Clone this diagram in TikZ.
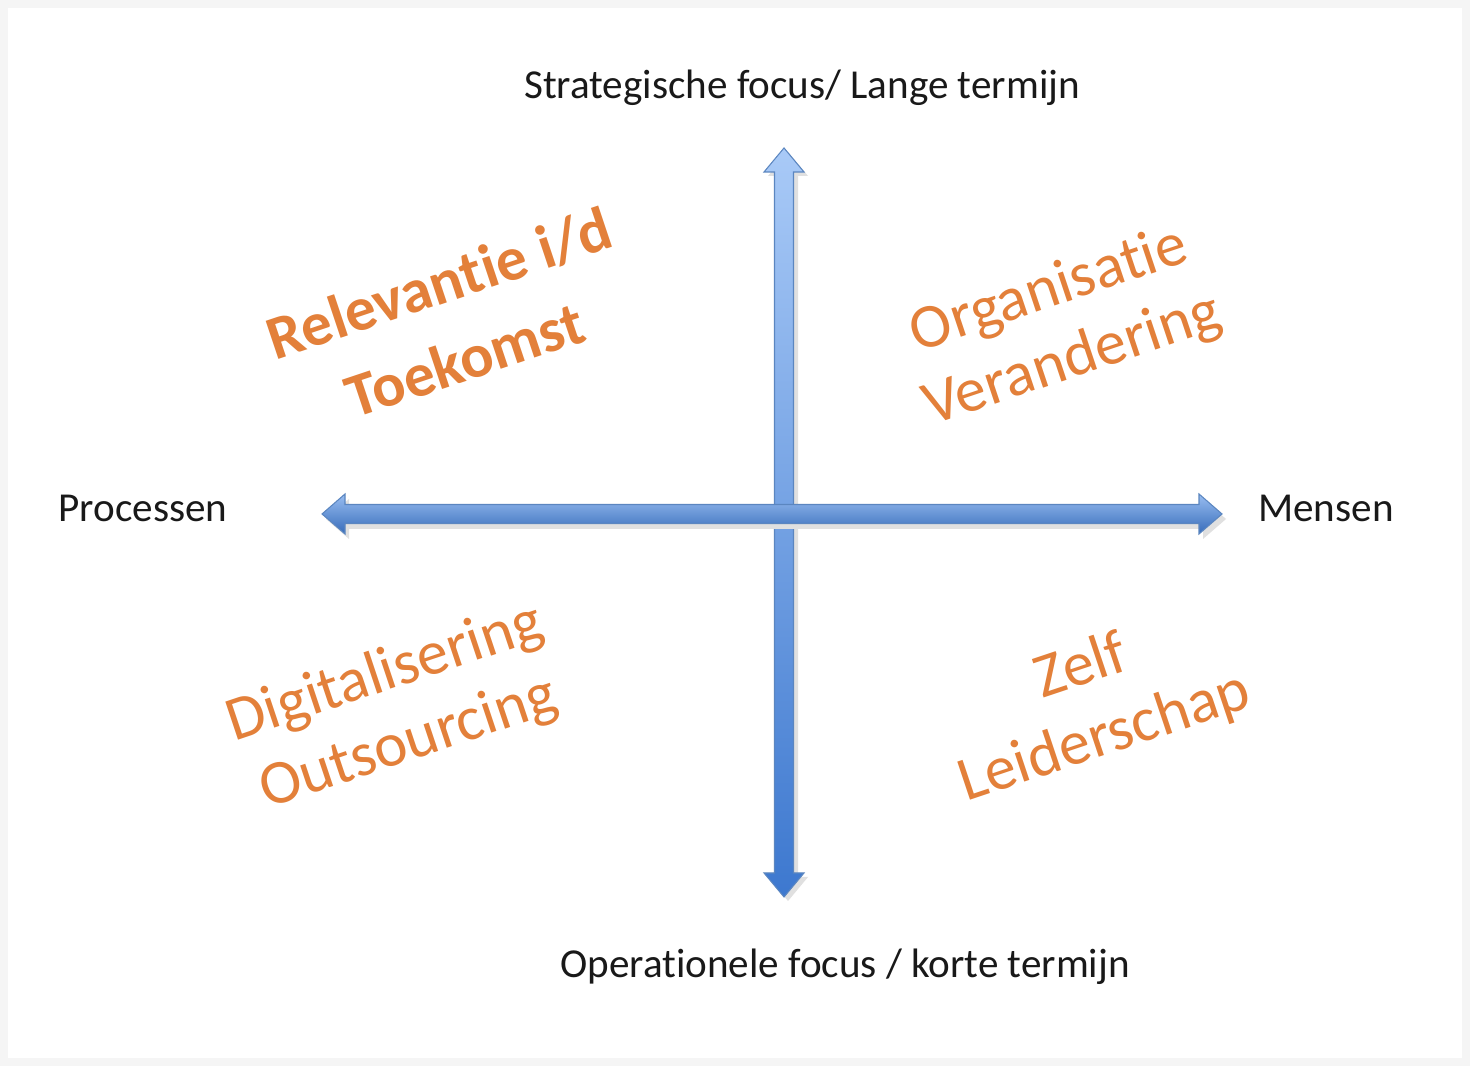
\documentclass[tikz,border=0pt]{standalone}
\usepackage{fontspec}
\setmainfont{Carlito}[Ligatures=NoCommon]
\usepackage{tikz}
\usetikzlibrary{calc}
\definecolor{oranje}{HTML}{E3803A}
\definecolor{pijllicht}{HTML}{A9CAF7}
\definecolor{pijldonker}{HTML}{3D78CF}
\definecolor{pijlrand}{HTML}{5B86C0}
\tikzset{
  as/.style={font=\fontsize{11.7}{14}\selectfont, text=black!90, inner sep=0pt},
  kwadrant/.style={font=\fontsize{17.8}{21}\selectfont, text=oranje, align=center, rotate=18.5, inner sep=0pt},
}

\begin{document}
\begin{tikzpicture}
			%%%%% START %%%%%
			
			\useasboundingbox (0, 0) rectangle (14.70, 10.66);
			\fill[black!4] (0, 0) rectangle (14.70, 10.66);
			\fill[white] (0.08, 0.08) rectangle (14.62, 10.58);
			
			% verticale pijl
			\fill[black!12] (7.88, 9.14) -- (8.08, 8.90) -- (7.98, 8.90) -- (7.98, 1.89) -- (8.08, 1.89) -- (7.88, 1.65) -- (7.68, 1.89) -- (7.78, 1.89) -- (7.78, 8.90) -- (7.68, 8.90) -- cycle;
			\shade[top color=pijllicht, bottom color=pijldonker, draw=pijlrand, line width=0.3pt]
			  (7.84, 9.18) -- (8.04, 8.94) -- (7.935, 8.94) -- (7.935, 1.93) -- (8.04, 1.93) -- (7.84, 1.69) -- (7.64, 1.93) -- (7.745, 1.93) -- (7.745, 8.94) -- (7.64, 8.94) -- cycle;
			
			% horizontale pijl
			\fill[black!12] (3.26, 5.47) -- (3.49, 5.27) -- (3.49, 5.37) -- (12.03, 5.37) -- (12.03, 5.27) -- (12.26, 5.47) -- (12.03, 5.67) -- (12.03, 5.57) -- (3.49, 5.57) -- (3.49, 5.67) -- cycle;
			\shade[top color=pijllicht!85!pijldonker, bottom color=pijldonker!90!black, draw=pijlrand, line width=0.3pt]
			  (3.22, 5.52) -- (3.45, 5.72) -- (3.45, 5.615) -- (11.99, 5.615) -- (11.99, 5.72) -- (12.22, 5.52) -- (11.99, 5.32) -- (11.99, 5.425) -- (3.45, 5.425) -- (3.45, 5.32) -- cycle;
			
			% assen
			\node[as] (lang) at (8.02, 9.78) {Strategische focus/ Lange termijn};
			\node[as] (kort) at (8.45, 0.99) {Operationele focus / korte termijn};
			\node[as] (proc) at (1.43, 5.58) {Processen};
			\node[as] (mens) at (13.26, 5.58) {Mensen};
			
			% kwadranten
			\node[kwadrant, font=\fontsize{17.6}{23}\bfseries\selectfont] (toekomst) at (4.52, 7.45) {Relevantie i/d\\Toekomst};
			\node[kwadrant] (verandering) at (10.61, 7.40) {Organisatie\\Verandering};
			\node[kwadrant] (digitaal) at (3.97, 3.57) {Digitalisering\\Outsourcing};
			\node[kwadrant] (leiderschap) at (10.93, 3.63) {Zelf\\Leiderschap};
			
			%%%%% END %%%%%
		\end{tikzpicture}
\end{document}
